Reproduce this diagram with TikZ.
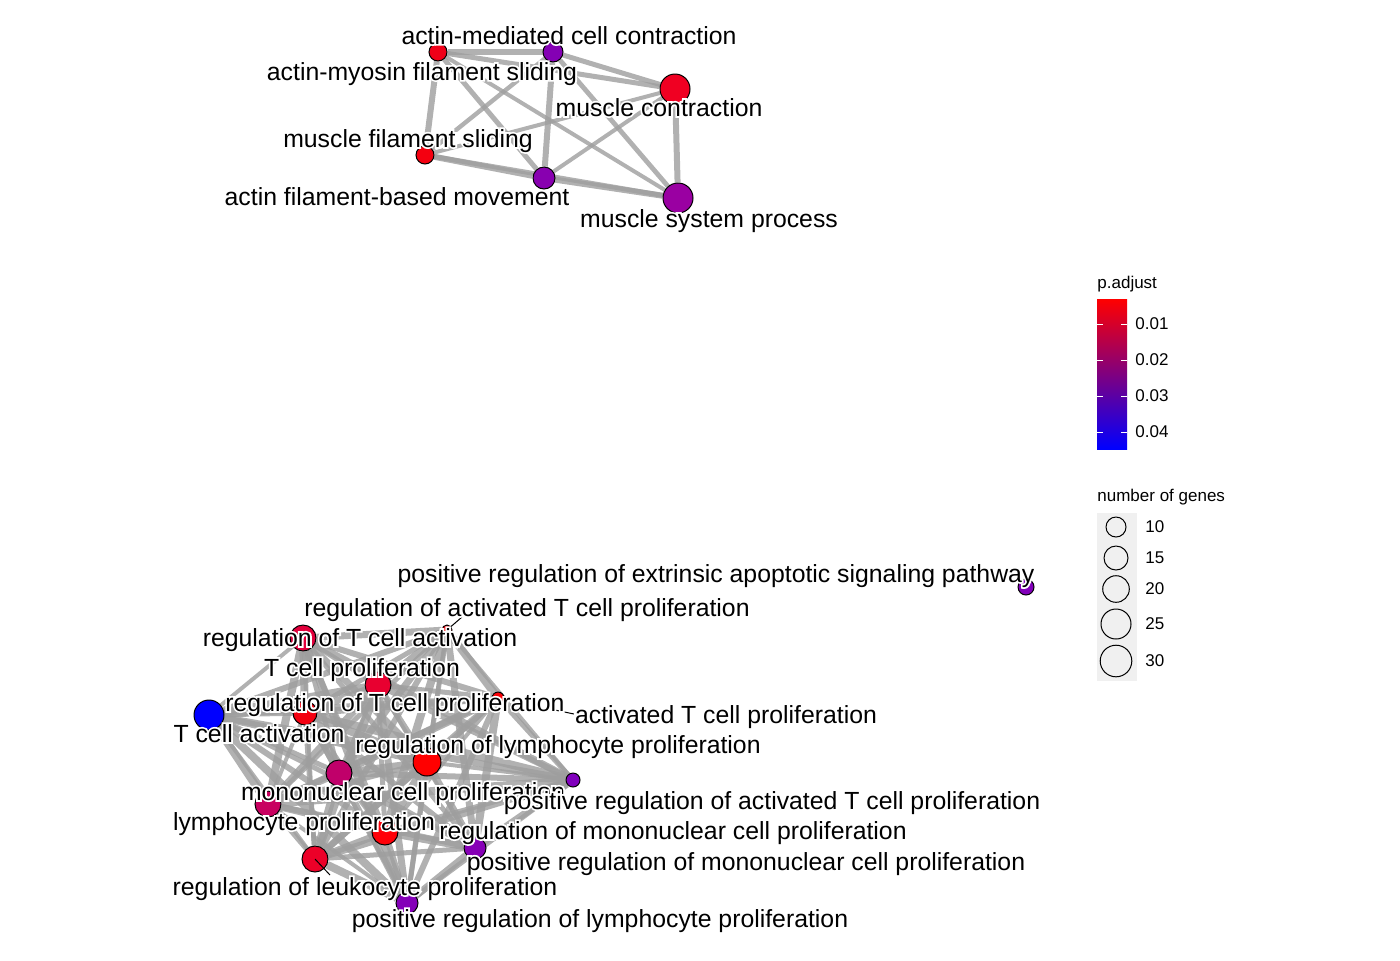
\documentclass[tikz,border=0pt]{standalone}
\usepackage{fontspec}
\setmainfont{Liberation Sans}
\newfontfamily\halofont[FakeBold=14]{Liberation Sans}
\definecolor{edgegray}{HTML}{9E9E9E}
\definecolor{keybg}{HTML}{F0F0F0}
\newcommand{\halo}[1]{\rlap{\halofont\color{white}#1}#1}
\pgfdeclarelayer{bg}
\pgfsetlayers{bg,main}
\tikzset{
  term/.style={circle,draw=black,line width=0.5pt,inner sep=0pt,minimum size=#1pt},
  link/.style={draw=edgegray,draw opacity=0.8,line width=#1pt},
  lbl/.style={font=\fontsize{12.4}{14}\selectfont,inner sep=0pt,anchor=base},
  key/.style={font=\fontsize{8.5}{10}\selectfont,inner sep=0pt,anchor=west},
  leader/.style={draw=black,line width=0.5pt}
}

\begin{document}
\begin{tikzpicture}[x=0.5pt,y=-0.5pt]
\useasboundingbox (0,0) rectangle (1400,960);

% muscle cluster
\node[term=9,fill={rgb,255:red,240;green,0;blue,24}] (amfs) at (438,52) {};
\node[term=10,fill={rgb,255:red,132;green,0;blue,180}] (amcc) at (553,52) {};
\node[term=15,fill={rgb,255:red,240;green,0;blue,34}] (mc) at (675,89) {};
\node[term=9,fill={rgb,255:red,244;green,0;blue,16}] (mfs) at (425,155) {};
\node[term=11,fill={rgb,255:red,136;green,0;blue,176}] (afbm) at (544,178) {};
\node[term=15,fill={rgb,255:red,154;green,0;blue,162}] (msp) at (678,198) {};

% T cell cluster
\node[term=13,fill={rgb,255:red,226;green,0;blue,60}] (rtca) at (303,638) {};
\node[term=5,fill={rgb,255:red,248;green,0;blue,8}] (ratp) at (447,630) {};
\node[term=13,fill={rgb,255:red,232;green,0;blue,48}] (tcp) at (378,685) {};
\node[term=12,fill={rgb,255:red,244;green,0;blue,16}] (rtcp) at (305,713) {};
\node[term=6,fill={rgb,255:red,250;green,0;blue,6}] (atcp) at (498,698) {};
\node[term=15,fill=blue] (tca) at (209,715) {};
\node[term=14,fill=red] (rlp) at (427,762) {};
\node[term=13,fill={rgb,255:red,192;green,0;blue,106}] (mcp) at (339,773) {};
\node[term=13,fill={rgb,255:red,200;green,0;blue,96}] (lp) at (268,804) {};
\node[term=13,fill={rgb,255:red,255;green,0;blue,8}] (rmcp) at (385,832) {};
\node[term=13,fill={rgb,255:red,236;green,0;blue,40}] (rlkp) at (315,859) {};
\node[term=7,fill={rgb,255:red,128;green,0;blue,188}] (pratp) at (573,780) {};
\node[term=11,fill={rgb,255:red,134;green,0;blue,182}] (prmcp) at (475,848) {};
\node[term=11,fill={rgb,255:red,132;green,0;blue,184}] (prlp) at (407,903) {};
\node[term=8,fill={rgb,255:red,130;green,0;blue,186}] (preasp) at (1026,587) {};

\begin{pgfonlayer}{bg}
\foreach \a/\b/\w in {amfs/amcc/3,amfs/mc/2.5,amfs/mfs/3,amfs/afbm/2.5,amfs/msp/2,
  amcc/mc/2.5,amcc/mfs/2.2,amcc/afbm/3,amcc/msp/2.4,mc/mfs/2,mc/afbm/2,mc/msp/3,
  mfs/afbm/3,mfs/msp/2.4,afbm/msp/3}
  \draw[link=\w] (\a) -- (\b);
\foreach \a [count=\i] in {rtca,ratp,tcp,rtcp,atcp,tca,rlp,mcp,lp,rmcp,rlkp,pratp,prmcp,prlp}{
  \foreach \b [count=\j] in {rtca,ratp,tcp,rtcp,atcp,tca,rlp,mcp,lp,rmcp,rlkp,pratp,prmcp,prlp}{
    \ifnum\j>\i
      \pgfmathsetmacro\w{2+0.5*mod(\i*7+\j*3,5)}
      \draw[link=\w] (\a) -- (\b);
    \fi
  }
}
\end{pgfonlayer}

% leader lines
\coordinate (ratp-tip) at (462,617);
\coordinate (atcp-tip) at (574,714);
\coordinate (rlkp-tip) at (330,875);
\draw[leader] (ratp) -- (ratp-tip);
\draw[leader,shorten <=29pt] (atcp.center) -- (atcp-tip);
\draw[leader] (rlkp.center) -- (rlkp-tip);

% labels
\node[lbl] (l-amcc) at (569,44) {\halo{actin-mediated cell contraction}};
\node[lbl] (l-amfs) at (422,80) {\halo{actin-myosin filament sliding}};
\node[lbl] (l-mc) at (659,116) {\halo{muscle contraction}};
\node[lbl] (l-mfs) at (408,147) {\halo{muscle filament sliding}};
\node[lbl] (l-afbm) at (397,205) {\halo{actin filament-based movement}};
\node[lbl] (l-msp) at (709,227) {\halo{muscle system process}};

\node[lbl] (l-preasp) at (716,582) {\halo{positive regulation of extrinsic apoptotic signaling pathway}};
\node[lbl] (l-ratp) at (527,616) {\halo{regulation of activated T cell proliferation}};
\node[lbl] (l-rtca) at (360,646) {\halo{regulation of T cell activation}};
\node[lbl] (l-tcp) at (362,676) {\halo{T cell proliferation}};
\node[lbl] (l-rtcp) at (395,711) {\halo{regulation of T cell proliferation}};
\node[lbl] (l-atcp) at (726,723) {\halo{activated T cell proliferation}};
\node[lbl] (l-tca) at (259,742) {\halo{T cell activation}};
\node[lbl] (l-rlp) at (558,753) {\halo{regulation of lymphocyte proliferation}};
\node[lbl] (l-mcp) at (403,800) {\halo{mononuclear cell proliferation}};
\node[lbl] (l-pratp) at (772,809) {\halo{positive regulation of activated T cell proliferation}};
\node[lbl] (l-lp) at (304,830) {\halo{lymphocyte proliferation}};
\node[lbl] (l-rmcp) at (673,839) {\halo{regulation of mononuclear cell proliferation}};
\node[lbl] (l-prmcp) at (746,870) {\halo{positive regulation of mononuclear cell proliferation}};
\node[lbl] (l-rlkp) at (365,895) {\halo{regulation of leukocyte proliferation}};
\node[lbl] (l-prlp) at (600,927) {\halo{positive regulation of lymphocyte proliferation}};

% legend: p.adjust
\node[key] (padj) at (1097,284) {p.adjust};
\shade[top color=red,middle color={rgb,255:red,180;green,0;blue,126},bottom color=blue]
  (1097,299) rectangle (1127,449);
\foreach \t/\y in {0.01/324,0.02/360,0.03/396,0.04/432}{
  \draw[white,line width=0.5pt] (1097,\y) -- (1103,\y) (1121,\y) -- (1127,\y);
  \node[key] at (1135,\y) {\t};
}

% legend: number of genes
\node[key] (ngenes) at (1097,497) {number of genes};
\fill[keybg] (1097,513) rectangle (1137,681);
\foreach \n/\y/\r in {10/527/10,15/558/12,20/589/13.3,25/624/15,30/661/15.8}{
  \node[circle,draw=black,line width=0.5pt,inner sep=0pt,minimum size=\r pt] (k\n) at (1116,\y) {};
  \node[key] at (1145,\y) {\n};
}
\end{tikzpicture}
\end{document}
